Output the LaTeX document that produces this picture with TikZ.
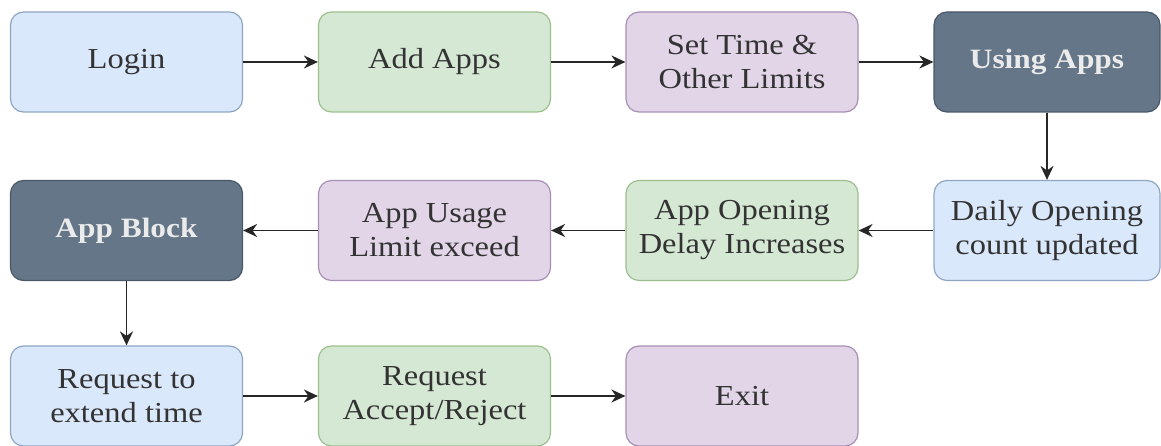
\documentclass[tikz,border=0pt]{standalone}
\usepackage{fontspec}
\setmainfont{Liberation Serif}[FakeStretch=1.12]
\usetikzlibrary{arrows.meta}
\definecolor{bfill}{HTML}{DAE8FC}\definecolor{bline}{HTML}{8FA6C2}
\definecolor{gfill}{HTML}{D5E8D4}\definecolor{gline}{HTML}{9DBF8E}
\definecolor{pfill}{HTML}{E1D5E7}\definecolor{pline}{HTML}{A88FB5}
\definecolor{dfill}{HTML}{647687}\definecolor{dline}{HTML}{4A5868}
\definecolor{txt}{HTML}{333333}
\begin{document}
\begin{tikzpicture}[x=1pt,y=-1pt,
  box/.style={rounded corners=13pt, line width=1.2pt, minimum width=232pt, minimum height=100pt,
    align=center, inner sep=0pt, text=txt, font=\fontsize{29}{34}\selectfont},
  bbox/.style={box, fill=bfill, draw=bline},
  gbox/.style={box, fill=gfill, draw=gline},
  pbox/.style={box, fill=pfill, draw=pline},
  dbox/.style={box, fill=dfill, draw=dline, text=white!92!black, font=\fontsize{28}{34}\selectfont\bfseries},
  lastcol/.style={minimum width=226pt},
  arr/.style={line width=1.8pt, black!85, -{Stealth[length=14pt,width=13pt]}}]
\useasboundingbox (0,0) rectangle (1161,446);
\fill[white] (0,0) rectangle (1161,446);
\node[bbox] (login) at (126.5,62) {Login};
\node[gbox] (add) at (434.5,62) {Add Apps};
\node[pbox] (set) at (742,62) {Set Time \&\\Other Limits};
\node[dbox,lastcol] (using) at (1047,62) {Using Apps};
\node[dbox] (block) at (126.5,230.5) {App Block};
\node[pbox] (usage) at (434.5,230.5) {App Usage\\Limit exceed};
\node[gbox] (delay) at (742,230.5) {App Opening\\Delay Increases};
\node[bbox,lastcol] (daily) at (1047,230.5) {Daily Opening\\count updated};
\node[bbox] (req) at (126.5,396) {Request to\\extend time};
\node[gbox] (acc) at (434.5,396) {Request\\Accept/Reject};
\node[pbox] (exit) at (742,396) {Exit};
\draw[arr] (login) -- (add);
\draw[arr] (add) -- (set);
\draw[arr] (set) -- (using);
\draw[arr] (using) -- (daily);
\draw[arr] (daily) -- (delay);
\draw[arr] (delay) -- (usage);
\draw[arr] (usage) -- (block);
\draw[arr] (block) -- (req);
\draw[arr] (req) -- (acc);
\draw[arr] (acc) -- (exit);
\end{tikzpicture}
\end{document}
